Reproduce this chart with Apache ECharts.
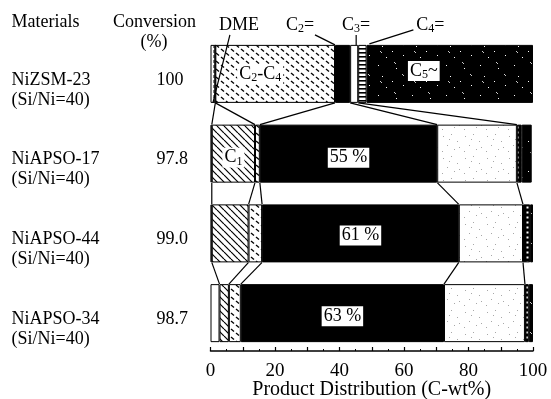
<!DOCTYPE html>
<html>
<head>
<meta charset="utf-8">
<script src="https://cdn.jsdelivr.net/npm/echarts@6/dist/echarts.min.js"></script>
<style>
  html, body { margin: 0; padding: 0; background: #fff; }
  #chart { width: 551px; height: 399px; }
</style>
</head>
<body>
<div id="chart"></div>
<script>
// Catalysts and their methanol conversion
const materials  = ['NiZSM-23', 'NiAPSO-17', 'NiAPSO-44', 'NiAPSO-34'];
const siNiRatio  = ['(Si/Ni=40)', '(Si/Ni=40)', '(Si/Ni=40)', '(Si/Ni=40)'];
const conversion = ['100', '97.8', '99.0', '98.7'];

// Product distribution (C-wt%) per catalyst, in stacking order
const dme    = [1.5, 0.4, 0.4, 2.8];
const c1     = [0, 13.4, 11.4, 2.9];
const c2c4   = [37.1, 1.5, 4.2, 3.7];   // C2-C4 paraffins
const c2ene  = [4.7, 55, 61, 63];       // ethylene
const c3ene  = [2.5, 24.7, 19.9, 25.1]; // propylene
const c4ene  = [2.6, 1.5, 2.2, 1.2];    // butenes
const c5plus = [51.6, 3.1, 0.9, 1.3];   // C5+

const xTicks = [0, 20, 40, 60, 80, 100];

const SERIF = "'Liberation Serif', 'Times New Roman', serif";
const BAR_H = 58;

// ---- fill textures -------------------------------------------------------
function tile(w, h, bg, draw) {
  const c = document.createElement('canvas');
  c.width = w; c.height = h;
  const g = c.getContext('2d');
  g.fillStyle = bg; g.fillRect(0, 0, w, h);
  draw(g);
  return { image: c, repeat: 'repeat' };
}
function seg(g, color, width, pts) {
  g.strokeStyle = color; g.lineWidth = width; g.lineCap = 'butt';
  for (const p of pts) { g.beginPath(); g.moveTo(p[0], p[1]); g.lineTo(p[2], p[3]); g.stroke(); }
}
function dots(g, color, size, pts) {
  g.fillStyle = color;
  for (const p of pts) g.fillRect(p[0], p[1], size, size);
}

const fill = {
  white: '#fff',
  black: '#000',
  // diagonal hatching
  hatch: tile(7, 7, '#fff', g => seg(g, '#000', 1.2, [[0, 0, 7, 7], [-7, 0, 0, 7], [7, 0, 14, 7]])),
  // short slanted dashes
  dashes: tile(10, 8, '#fff', g => seg(g, '#000', 1.3, [[1, 1, 4, 3.5], [6, 5, 9, 7.5]])),
  // thin vertical dashes
  vdash: tile(4, 5, '#fff', g => seg(g, '#000', 1, [[2, 0, 2, 3]])),
  // light stipple
  stipple: tile(22, 22, '#fff', g => dots(g, '#a8a8a8', 1,
    [[3, 4], [11, 2], [17, 9], [7, 13], [14, 17], [2, 19], [19, 15], [9, 7]])),
  // horizontal stripes
  stripes: tile(4, 4, '#fff', g => { g.fillStyle = '#000'; g.fillRect(0, 0, 4, 1.6); }),
  // dotted black column
  dotted: tile(5, 5, '#000', g => dots(g, '#fff', 2, [[1.5, 1.5]])),
  // black with sparse speckles
  speckle: tile(34, 30, '#000', g => {
    dots(g, '#fff', 1, [[4, 5], [22, 8], [8, 16], [18, 21], [29, 25], [12, 27]]);
    seg(g, '#fff', 0.8, [[20, 2, 22, 4], [6, 21, 8, 23], [28, 14, 30, 16]]);
  })
};

// ---- stacked segments ------------------------------------------------------
const serif = (size) => ({ fontFamily: SERIF, fontSize: size, color: '#000' });
const subRich = {
  b: { fontFamily: SERIF, fontSize: 18, color: '#000', lineHeight: 20 },
  s: { fontFamily: SERIF, fontSize: 12, color: '#000', lineHeight: 15, verticalAlign: 'bottom' }
};

const parts = [
  { name: 'DME',   values: dme,    fills: [fill.vdash, fill.white, fill.white, fill.white] },
  { name: 'C1',    values: c1,     fills: [fill.hatch, fill.hatch, fill.hatch, fill.hatch],
    labels: { 1: { formatter: '{b|C}{s|1}', offset: [0, 4] } } },
  { name: 'C2-C4', values: c2c4,   fills: [fill.dashes, fill.dashes, fill.dashes, fill.dashes],
    labels: { 0: { formatter: '{b|C}{s|2}{b|-C}{s|4}', offset: [-15, 0] } } },
  { name: 'C2=',   values: c2ene,  fills: [fill.black, fill.black, fill.black, fill.black],
    labels: { 1: { formatter: '{b|{c} %}', offset: [0, 4] },
              2: { formatter: '{b|{c} %}', offset: [0, 2] },
              3: { formatter: '{b|{c} %}', offset: [0, 3] } } },
  { name: 'C3=',   values: c3ene,  fills: [fill.white, fill.stipple, fill.stipple, fill.stipple] },
  { name: 'C4=',   values: c4ene,  fills: [fill.stripes, fill.dotted, fill.dotted, fill.dotted] },
  { name: 'C5~',   values: c5plus, fills: [fill.speckle, fill.speckle, fill.speckle, fill.speckle],
    labels: { 0: { formatter: '{b|C}{s|5}{b|~}', offset: [-26, -3] } } }
];

const barSeries = parts.map(p => ({
  type: 'bar',
  name: p.name,
  stack: 'total',
  barWidth: BAR_H,
  z: 2,
  data: p.values.map((v, i) => {
    const item = { value: v, itemStyle: { color: p.fills[i], borderColor: '#000', borderWidth: 1 } };
    if (p.labels && p.labels[i]) {
      item.label = {
        show: true, position: 'inside', formatter: p.labels[i].formatter, offset: p.labels[i].offset,
        backgroundColor: '#fff', padding: [0, 2, 0, 2], rich: subRich
      };
    }
    return item;
  })
}));

// ---- connector lines between consecutive bars ------------------------------
const stacks = parts.map(p => p.values);
function cumulative(row, k) {
  let s = 0;
  for (let i = 0; i <= k; i++) s += stacks[i][row];
  return s;
}
const connectors = [];
for (let r = 0; r < materials.length - 1; r++) {
  for (let k = 0; k < 5; k++) connectors.push([cumulative(r, k), r, cumulative(r + 1, k), r + 1]);
}

const connectorSeries = {
  type: 'custom',
  z: 3,
  silent: true,
  encode: { x: [0, 2], y: [1, 3] },
  data: connectors,
  renderItem(params, api) {
    const a = api.coord([api.value(0), api.value(1)]);
    const b = api.coord([api.value(2), api.value(3)]);
    return {
      type: 'line',
      shape: { x1: a[0], y1: a[1] + BAR_H / 2, x2: b[0], y2: b[1] - BAR_H / 2 },
      style: { stroke: '#000', lineWidth: 1.2 }
    };
  }
};

// ---- callouts naming the components of the first bar -----------------------
const calloutText = ['DME', '{b|C}{s|2}{b|=}', '{b|C}{s|3}{b|=}', '{b|C}{s|4}{b|=}'];
const calloutAt = [
  dme[0] / 2,
  cumulative(0, 2),
  cumulative(0, 3) + c3ene[0] / 2,
  cumulative(0, 4) + c4ene[0] / 2
];
// text offset and leader line (relative to the anchor on the bar's top edge)
const calloutLayout = [
  { tx: 26, ty: -20, line: [17, -10, 0, BAR_H] },
  { tx: -35, ty: -20, line: [-20, -10, 0, 0] },
  { tx: 2, ty: -20, line: [2, -10, 2, 0] },
  { tx: 68, ty: -20, line: [51, -15, 7, -1] }
];

const calloutSeries = {
  type: 'custom',
  z: 4,
  silent: true,
  encode: { x: 0, y: 1 },
  data: calloutAt.map((v, i) => [v, 0, i]),
  renderItem(params, api) {
    const p = api.coord([api.value(0), api.value(1)]);
    const top = p[1] - BAR_H / 2;
    const L = calloutLayout[api.value(2)];
    return {
      type: 'group',
      children: [
        {
          type: 'line',
          shape: { x1: p[0] + L.line[0], y1: top + L.line[1], x2: p[0] + L.line[2], y2: top + L.line[3] },
          style: { stroke: '#000', lineWidth: 1.2 }
        },
        {
          type: 'text',
          style: {
            x: p[0] + L.tx, y: top + L.ty,
            text: calloutText[api.value(2)],
            align: 'center', verticalAlign: 'middle',
            font: `18px ${SERIF}`, fill: '#000',
            rich: subRich
          }
        }
      ]
    };
  }
};

const chart = echarts.init(document.getElementById('chart'), null, { renderer: 'canvas' });
chart.setOption({
  animation: false,
  backgroundColor: '#fff',
  grid: { left: 210.5, right: 18, top: 34, bottom: 46, containLabel: false, outerBoundsMode: 'none' },
  xAxis: {
    type: 'value',
    min: xTicks[0], max: xTicks[xTicks.length - 1], interval: 10,
    offset: -2,
    axisLine: { show: true, lineStyle: { color: '#000', width: 1.5 } },
    axisTick: { show: true, inside: true, length: 4, lineStyle: { color: '#000', width: 1.2 } },
    minorTick: { show: true, splitNumber: 2, length: 2, lineStyle: { color: '#000', width: 1 } },
    splitLine: { show: false },
    axisLabel: {
      margin: 11, ...serif(19),
      formatter: v => (xTicks.includes(v) ? String(v) : '')
    },
    name: 'Product Distribution (C-wt%)',
    nameLocation: 'middle',
    nameGap: 29,
    nameMoveOverlap: false,
    nameTextStyle: serif(20)
  },
  yAxis: {
    type: 'category',
    inverse: true,
    data: materials,
    axisLine: { show: false },
    axisTick: { show: false },
    splitLine: { show: false },
    axisLabel: {
      align: 'left',
      margin: 199,
      lineHeight: 20,
      padding: [32, 0, 0, 0],
      formatter: (v, i) => `{n|${v}}{c|${conversion[i]}}\n{n|${siNiRatio[i]}}`,
      rich: {
        n: { width: 145, fontFamily: SERIF, fontSize: 18, color: '#000', lineHeight: 20 },
        c: { fontFamily: SERIF, fontSize: 18, color: '#000', lineHeight: 20 }
      }
    }
  },
  graphic: [
    { type: 'text', x: 11.5, y: 22.5, style: { text: 'Materials', font: `18px ${SERIF}`, fill: '#000', verticalAlign: 'middle' } },
    { type: 'text', x: 154.5, y: 22.5, style: { text: 'Conversion', font: `18px ${SERIF}`, fill: '#000', align: 'center', verticalAlign: 'middle' } },
    { type: 'text', x: 154, y: 42.5, style: { text: '(%)', font: `18px ${SERIF}`, fill: '#000', align: 'center', verticalAlign: 'middle' } }
  ],
  series: [...barSeries, connectorSeries, calloutSeries]
});
</script>
</body>
</html>
